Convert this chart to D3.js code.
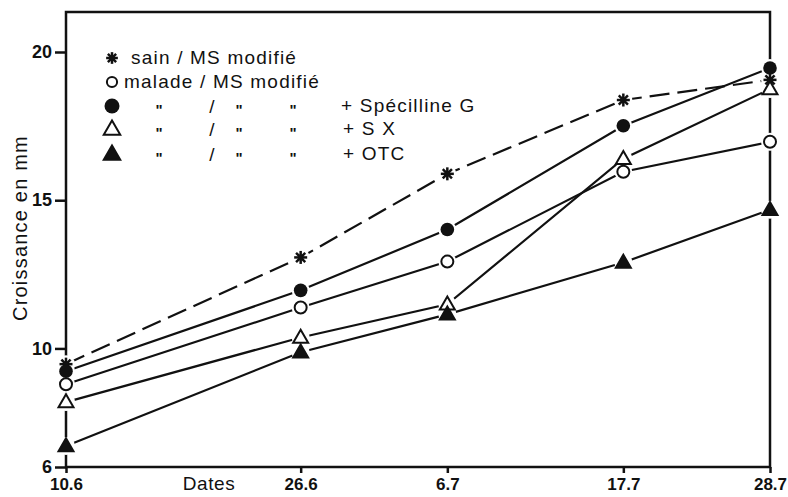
<html>
<head>
<style>
  body { margin: 0; background: #fff; }
  svg { display: block; }
  text { font-family: "Liberation Sans", Arial, sans-serif; fill: #111; }
</style>
<script src="https://d3js.org/d3.v7.min.js"></script>
</head>
<body>
<svg id="chart"></svg>
<script>
// dates on the x axis and the day offset from 10.6 where each is plotted
var dates = ["10.6", "26.6", "6.7", "17.7", "28.7"];
var days = [0, 16, 26, 38, 48];
var yTicks = [6, 10, 15, 20];

// growth in mm, one array per series
var sain = [9.47, 13.07, 15.89, 18.38, 19.06];
var malade = [8.79, 11.38, 12.93, 15.96, 16.97];
var specilline = [9.23, 11.96, 14.01, 17.51, 19.46];
var sx = [8.19, 10.37, 11.49, 16.40, 18.75];
var otc = [6.71, 9.87, 11.15, 12.90, 14.68];

var series = [
  { values: sain, mark: "star", dashed: true },
  { values: malade, mark: "openCircle" },
  { values: specilline, mark: "dot" },
  { values: sx, mark: "openTri" },
  { values: otc, mark: "tri" }
];

var W = 788, H = 497;
var svg = d3.select("#chart").attr("width", W).attr("height", H);

var x = d3.scaleLinear().domain([0, 48]).range([66, 770]);
var y = d3.scaleLinear().domain([6, 20]).range([467, 52]);

// frame
svg.append("rect")
  .attr("x", x(0)).attr("y", 12)
  .attr("width", x(48) - x(0)).attr("height", y(6) - 12)
  .attr("fill", "none").attr("stroke", "#111").attr("stroke-width", 2.5);

var yAxis = svg.append("g")
  .attr("transform", "translate(" + x(0) + ",0)")
  .call(d3.axisLeft(y).tickValues(yTicks).tickSize(11).tickPadding(3));
yAxis.select(".domain").remove();
yAxis.selectAll("line").attr("stroke", "#111").attr("stroke-width", 2.5);
yAxis.selectAll("text").attr("font-size", 18).attr("font-weight", "bold")
  .attr("font-family", "Liberation Sans, Arial, sans-serif").attr("fill", "#111");

var xAxis = svg.append("g")
  .attr("transform", "translate(0," + y(6) + ")")
  .call(d3.axisBottom(x).tickValues(days).tickSize(6).tickPadding(5)
    .tickFormat(function (d, i) { return dates[i]; }));
xAxis.select(".domain").remove();
xAxis.selectAll("line").attr("stroke", "#111").attr("stroke-width", 2.5);
xAxis.selectAll("text").attr("font-size", 17).attr("font-weight", "bold")
  .attr("font-family", "Liberation Sans, Arial, sans-serif").attr("fill", "#111");

svg.append("text")
  .attr("x", 209).attr("y", 490)
  .attr("text-anchor", "middle")
  .attr("font-size", 19).attr("letter-spacing", 0.6)
  .text("Dates");

svg.append("text")
  .attr("transform", "translate(27,228) rotate(-90)")
  .attr("text-anchor", "middle")
  .attr("font-size", 20).attr("letter-spacing", 1.2)
  .text("Croissance en mm");

// lines
var line = d3.line()
  .x(function (d, i) { return x(days[i]); })
  .y(function (d) { return y(d); });

series.forEach(function (s) {
  svg.append("path")
    .datum(s.values)
    .attr("d", line)
    .attr("fill", "none")
    .attr("stroke", "#111")
    .attr("stroke-width", 2.2)
    .attr("stroke-dasharray", s.dashed ? "20,8" : null);
});

function drawMark(g, type, k) {
  k = k || 1;
  if (type == "star") {
    [0, 45, 90, 135].forEach(function (a) {
      g.append("line")
        .attr("x1", -6.5 * k).attr("x2", 6.5 * k)
        .attr("transform", "rotate(" + a + ")")
        .attr("stroke", "#111").attr("stroke-width", 2.5);
    });
    g.append("circle").attr("r", 2.8 * k).attr("fill", "#111");
  } else if (type == "openCircle") {
    g.append("circle").attr("r", 6 * k)
      .attr("fill", "#fff").attr("stroke", "#111").attr("stroke-width", 2);
  } else if (type == "dot") {
    g.append("circle").attr("r", 6.8 * k).attr("fill", "#111");
  } else {
    var w = 7.5 * k, h = 13 * k;
    g.append("path")
      .attr("d", "M0," + (-h * 0.6) + "L" + w + "," + (h * 0.4) + "L" + (-w) + "," + (h * 0.4) + "Z")
      .attr("fill", type == "tri" ? "#111" : "#fff")
      .attr("stroke", "#111").attr("stroke-width", 2)
      .attr("stroke-linejoin", "miter");
  }
}

// white halos leave the small gaps round the markers
series.forEach(function (s) {
  s.values.forEach(function (v, i) {
    svg.append("circle")
      .attr("cx", x(days[i])).attr("cy", y(v))
      .attr("r", 9).attr("fill", "#fff");
  });
});

series.forEach(function (s) {
  s.values.forEach(function (v, i) {
    var g = svg.append("g").attr("transform", "translate(" + x(days[i]) + "," + y(v) + ")");
    drawMark(g, s.mark);
  });
});

// legend
var legendRows = [
  { mark: "star", y: 58, parts: [{ x: 131, t: "sain / MS modifié" }] },
  { mark: "openCircle", y: 82, parts: [{ x: 124, t: "malade / MS modifié" }] },
  { mark: "dot", y: 106, parts: [{ x: 341, t: "+ Spécilline G" }] },
  { mark: "openTri", y: 129, parts: [{ x: 343, t: "+ S X" }] },
  { mark: "tri", y: 154, parts: [{ x: 343, t: "+ OTC" }] }
];

legendRows.forEach(function (r, i) {
  var g = svg.append("g").attr("transform", "translate(112," + r.y + ")");
  drawMark(g, r.mark, r.mark == "openCircle" ? 0.85 : (r.mark == "star" ? 0.9 : 1.1));
  r.parts.forEach(function (p) {
    svg.append("text")
      .attr("x", p.x).attr("y", r.y + 6)
      .attr("font-size", 19).attr("letter-spacing", 1.2)
      .text(p.t);
  });
  if (i >= 2) {
    // ditto marks
    [159, 239, 293].forEach(function (dx) {
      svg.append("text")
        .attr("x", dx).attr("y", r.y + 9)
        .attr("text-anchor", "middle")
        .attr("font-size", 15).attr("font-weight", "bold")
        .text("\"");
    });
    svg.append("text")
      .attr("x", 212).attr("y", r.y + 7)
      .attr("text-anchor", "middle")
      .attr("font-size", 19)
      .text("/");
  }
});
</script>
</body>
</html>
